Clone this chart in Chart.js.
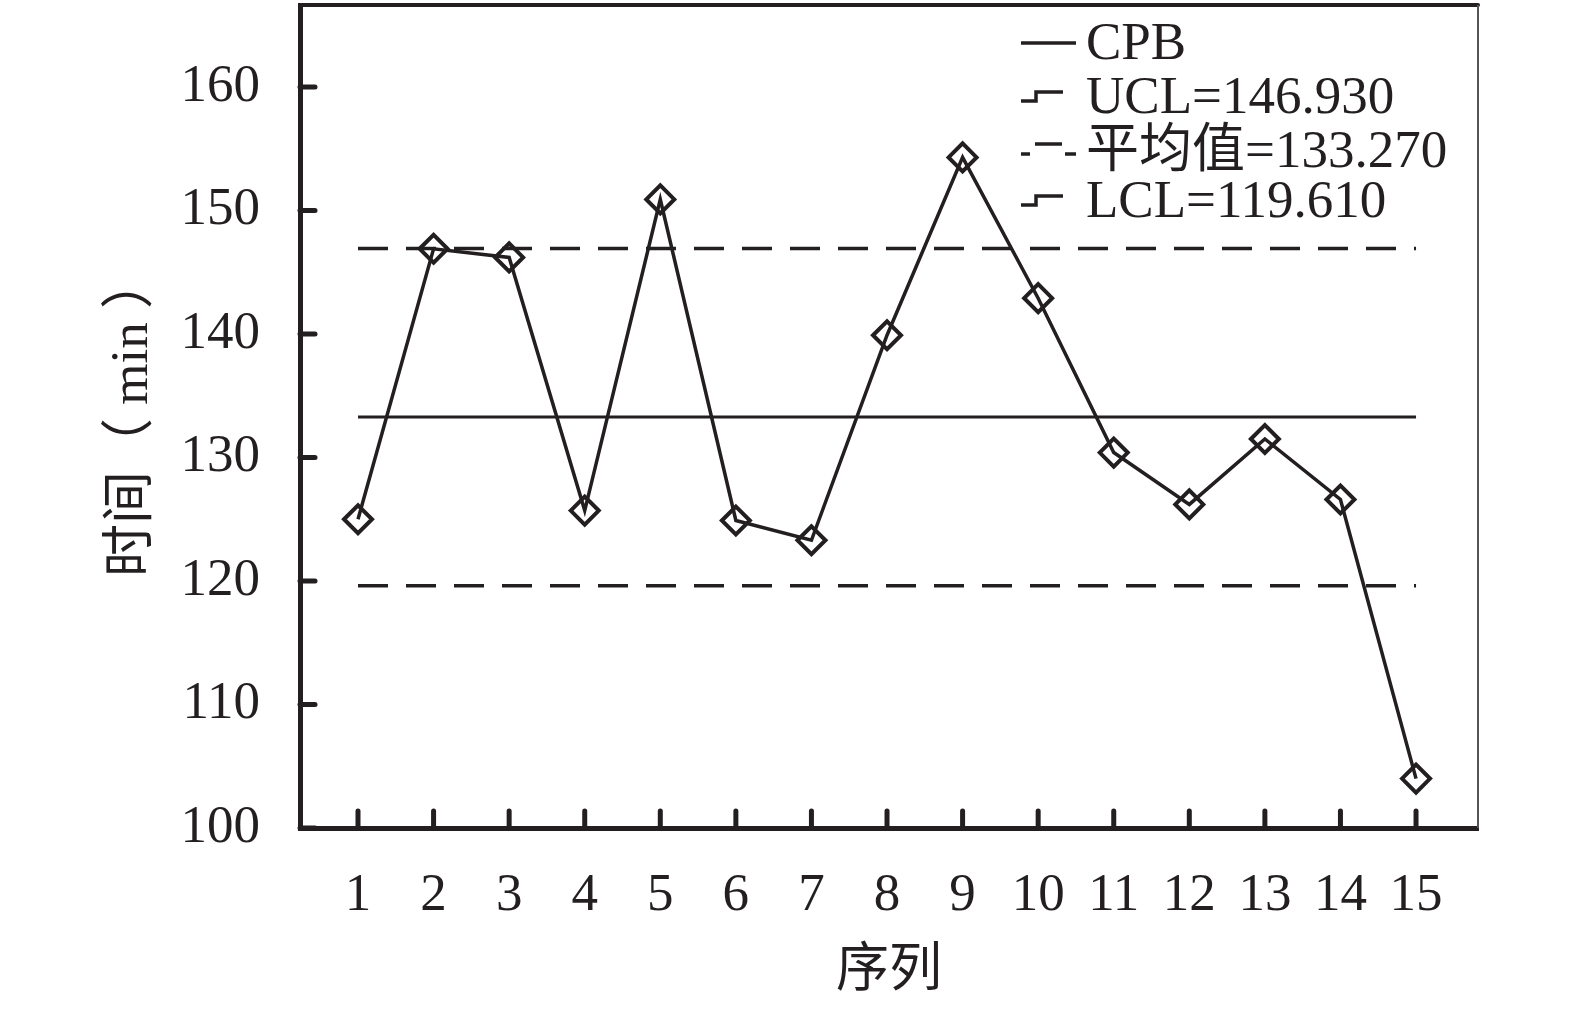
<!DOCTYPE html>
<html>
<head>
<meta charset="utf-8">
<script src="https://cdn.jsdelivr.net/npm/chart.js@4"></script>
<style>
  html, body { margin: 0; padding: 0; background: #fff; }
  #wrap { width: 1575px; height: 1010px; }
</style>
</head>
<body>
<div id="wrap"><canvas id="spcChart"></canvas></div>
<script>
// data
const categories = [1, 2, 3, 4, 5, 6, 7, 8, 9, 10, 11, 12, 13, 14, 15];
const cpbValues = [125.0, 146.9, 146.2, 125.7, 150.9, 124.9, 123.3, 139.9, 154.3, 142.9, 130.4, 126.2, 131.5, 126.6, 104.0];
const uclValue = 146.930;
const meanValue = 133.270;
const lclValue = 119.610;
const yTicks = [100, 110, 120, 130, 140, 150, 160];

const ink = '#231f20';
const fontFamily = "'Liberation Serif', 'Noto Sans CJK SC', serif";
const fontSize = 53;

const refLine = (v) => [{ x: categories[0], y: v }, { x: categories[categories.length - 1], y: v }];

// kill the auto label padding so the plot box sits where we want it
const noPad = (s) => { s.paddingTop = 0; s.paddingBottom = 0; s.paddingLeft = 0; s.paddingRight = 0; };

// inward ticks, top/right frame and the odd legend glyphs
const framePlugin = {
    id: 'frame',
    afterDraw(chart) {
        const { ctx, chartArea: a, scales } = chart;
        ctx.save();
        ctx.strokeStyle = ink;
        ctx.lineCap = 'round';

        // top border
        ctx.lineWidth = 4;
        ctx.beginPath();
        ctx.moveTo(a.left, a.top);
        ctx.lineTo(a.right, a.top);
        ctx.stroke();
        // right border (thin)
        ctx.lineCap = 'butt';
        ctx.lineWidth = 2;
        ctx.strokeStyle = '#555';
        ctx.beginPath();
        ctx.moveTo(a.right, a.top);
        ctx.lineTo(a.right, a.bottom);
        ctx.stroke();

        ctx.strokeStyle = ink;
        ctx.lineWidth = 5;
        ctx.lineCap = 'round';
        yTicks.forEach(v => {
            const y = scales.y.getPixelForValue(v);
            ctx.beginPath();
            ctx.moveTo(a.left, y);
            ctx.lineTo(a.left + 15, y);
            ctx.stroke();
        });
        categories.forEach(c => {
            const x = scales.x.getPixelForValue(c);
            ctx.beginPath();
            ctx.moveTo(x, a.bottom);
            ctx.lineTo(x, a.bottom - 17);
            ctx.stroke();
        });

        // legend
        const labels = [
            'CPB',
            'UCL=' + uclValue.toFixed(3),
            '平均值=' + meanValue.toFixed(3),
            'LCL=' + lclValue.toFixed(3)
        ];
        const rows = [43, 97, 151, 201];
        ctx.lineWidth = 3.5;
        ctx.lineCap = 'butt';
        ctx.lineJoin = 'miter';
        // CPB solid
        ctx.beginPath();
        ctx.moveTo(1021, rows[0]); ctx.lineTo(1076, rows[0]);
        ctx.stroke();
        // step glyphs for UCL / LCL
        [rows[1], rows[3]].forEach(r => {
            ctx.beginPath();
            ctx.moveTo(1021, r + 4);
            ctx.lineTo(1036, r + 4);
            ctx.lineTo(1036, r - 5);
            ctx.lineTo(1063, r - 5);
            ctx.stroke();
        });
        // mean glyph
        const m = rows[2];
        ctx.beginPath();
        ctx.moveTo(1021, m + 3); ctx.lineTo(1030, m + 3);
        ctx.moveTo(1035, m - 7); ctx.lineTo(1062, m - 7);
        ctx.moveTo(1065, m + 3); ctx.lineTo(1076, m + 3);
        ctx.stroke();

        ctx.fillStyle = ink;
        ctx.font = fontSize + 'px ' + fontFamily;
        ctx.textBaseline = 'middle';
        ctx.textAlign = 'left';
        labels.forEach((t, i) => ctx.fillText(t, 1086, rows[i] + 2));
        ctx.restore();
    }
};

new Chart(document.getElementById('spcChart'), {
    type: 'line',
    data: {
        datasets: [
            {
                label: 'CPB',
                data: categories.map((c, i) => ({ x: c, y: cpbValues[i] })),
                borderColor: ink,
                borderWidth: 3.5,
                pointStyle: 'rectRot',
                pointRadius: 14,
                pointBorderWidth: 4,
                pointBorderColor: ink,
                pointBackgroundColor: 'rgba(0,0,0,0)',
                tension: 0
            },
            {
                label: 'UCL',
                data: refLine(uclValue),
                borderColor: ink,
                borderWidth: 3.5,
                borderDash: [30, 18],
                pointRadius: 0
            },
            {
                label: '平均值',
                data: refLine(meanValue),
                borderColor: ink,
                borderWidth: 3,
                pointRadius: 0
            },
            {
                label: 'LCL',
                data: refLine(lclValue),
                borderColor: ink,
                borderWidth: 3.5,
                borderDash: [30, 18],
                pointRadius: 0
            }
        ]
    },
    options: {
        responsive: true,
        maintainAspectRatio: false,
        animation: false,
        layout: { autoPadding: false, padding: { top: 5, right: 97, left: 0, bottom: 0 } },
        plugins: {
            legend: { display: false },
            tooltip: { enabled: false }
        },
        scales: {
            x: {
                type: 'linear',
                min: 0.2325,
                max: 15.82,
                afterFit(s) { s.height = 182; noPad(s); },
                afterBuildTicks(s) { s.ticks = categories.map(v => ({ value: v })); },
                grid: { display: false },
                border: { display: true, width: 5, color: ink },
                ticks: {
                    color: ink,
                    font: { family: fontFamily, size: fontSize },
                    padding: 28,
                    maxRotation: 0,
                    autoSkip: false
                },
                title: {
                    display: true,
                    text: '序列',
                    color: ink,
                    font: { family: fontFamily, size: fontSize },
                    padding: { top: 0, bottom: 6 }
                }
            },
            y: {
                type: 'linear',
                min: 100,
                max: 166.64,
                afterFit(s) { s.width = 300; noPad(s); },
                afterBuildTicks(s) { s.ticks = yTicks.map(v => ({ value: v })); },
                grid: { display: false },
                border: { display: true, width: 5, color: ink },
                ticks: {
                    color: ink,
                    font: { family: fontFamily, size: fontSize },
                    padding: 32
                },
                title: {
                    display: true,
                    text: '时间（ min ）',
                    color: ink,
                    font: { family: fontFamily, size: fontSize },
                    padding: { top: 101, bottom: 0 }
                }
            }
        }
    },
    plugins: [framePlugin]
});
</script>
</body>
</html>
